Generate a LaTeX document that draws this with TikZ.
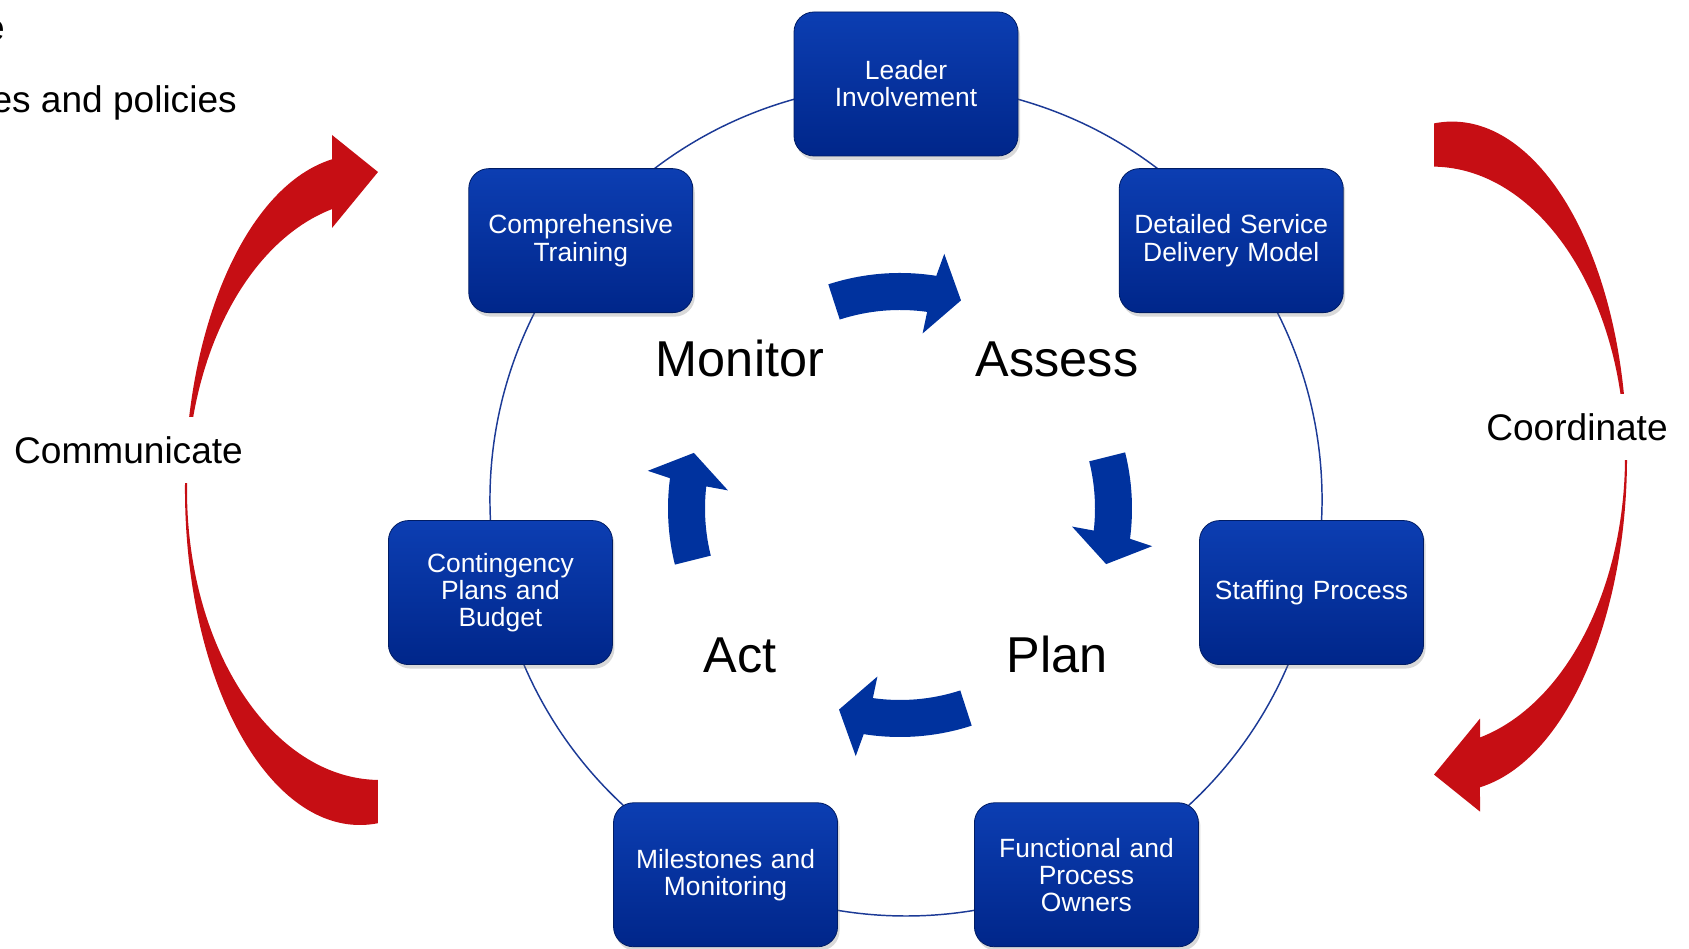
\documentclass[tikz,border=0pt]{standalone}
\usepackage{fontspec}
\setmainfont{Liberation Sans}
\usepackage{tikz}
\usetikzlibrary{positioning,calc,shadows,backgrounds}

\definecolor{boxtop}{RGB}{12,62,178}
\definecolor{boxbot}{RGB}{0,38,138}
\definecolor{boxline}{RGB}{0,28,100}
\definecolor{ringblue}{RGB}{28,58,150}
\definecolor{cycleblue}{RGB}{0,50,158}
\definecolor{loopred}{RGB}{198,14,20}

\tikzset{
  stepbox/.style={rectangle, rounded corners=15pt, minimum width=168pt, minimum height=108pt,
    text width=150pt, align=center, top color=boxtop, bottom color=boxbot, draw=boxline,
    line width=0.6pt, text=white, font=\fontsize{19.8}{20.3}\selectfont,
    drop shadow={shadow xshift=1.5pt, shadow yshift=-3pt, opacity=0.3}},
  phase/.style={anchor=base, inner sep=0pt, font=\fontsize{37.8}{40}\selectfont},
  sidelabel/.style={fill=white, inner xsep=2pt, minimum height=49.5pt, font=\fontsize{27.8}{30}\selectfont},
  corner/.style={anchor=base east, inner sep=0pt, font=\fontsize{27.8}{30}\selectfont},
  ring/.style={draw=ringblue, line width=1.1pt, looseness=0.9}
}

\begin{document}
\begin{tikzpicture}[x=0.75pt, y=0.75pt]
    \useasboundingbox (0,0) rectangle (1689,949);
    \coordinate (hub) at (906,449);

    % the seven steps round the ring
    \node[stepbox] (lead) at ($(hub)+(90:416)$) {Leader\\Involvement};
    \node[stepbox] (detail) at ($(hub)+(38.57:416)$) {Detailed Service\\Delivery Model};
    \node[stepbox] (staff) at ($(hub)+(-12.86:416)$) {Staffing Process};
    \node[stepbox] (owners) at ($(hub)+(-64.29:416)$) {Functional and\\Process\\Owners};
    \node[stepbox] (milestone) at ($(hub)+(-115.71:416)$) {Milestones and\\Monitoring};
    \node[stepbox] (conting) at ($(hub)+(-167.14:416)$) {Contingency\\Plans and\\Budget};
    \node[stepbox] (train) at ($(hub)+(141.43:416)$) {Comprehensive\\Training};

    \begin{scope}[on background layer]
        \foreach \a/\b in {lead/detail,detail/staff,staff/owners,owners/milestone,milestone/conting,conting/train,train/lead}
            \draw[ring] (\a.center) to[bend left=25.71] (\b.center);
    \end{scope}

    % inner cycle arrows
    \foreach \r/\t/\s/\py in {0/108/0/444, -90/104/1.5/440.5, -180/108/0/444, -270/104/1.5/440.5}
        \fill[cycleblue, shift={(900,\py)}, rotate=\r] (\t:232) arc[start angle=\t, end angle=81+\s, radius=232]
            -- (80+\s:255) -- (73.4+\s:213.5) -- (82.5+\s:173) -- (82+\s:195) arc[start angle=82+\s, end angle=\t, radius=195] -- cycle;

    \node[phase] (monitor) at (740,572) {Monitor};
    \node[phase] (assess) at (1057,572) {Assess};
    \node[phase] (act) at (740,276) {Act};
    \node[phase] (plan) at (1057,276) {Plan};

    % outer red arrows, the right one is the left one turned round
    \foreach \r in {0,180}
        \fill[loopred, rotate around={\r:(906,475.7)}] ($(360,459)+(99.2:175 and 335)$)
            arc[start angle=99.2, end angle=275.9, x radius=175, y radius=335]
            -- ($(380,459)+(269.4:193 and 290)$) arc[start angle=269.4, end angle=104.4, x radius=193, y radius=290]
            -- (332,721) -- (378,777) -- (332,814) -- cycle;

    \node[sidelabel] (coord) at (1577,521.5) {Coordinate};
    \node[sidelabel] (comm) at (128.5,499) {Communicate};

    \node[corner] (cut1) at (5,908) {e};
    \node[corner] (cut2) at (237,836) {es and policies};
\end{tikzpicture}
\end{document}
